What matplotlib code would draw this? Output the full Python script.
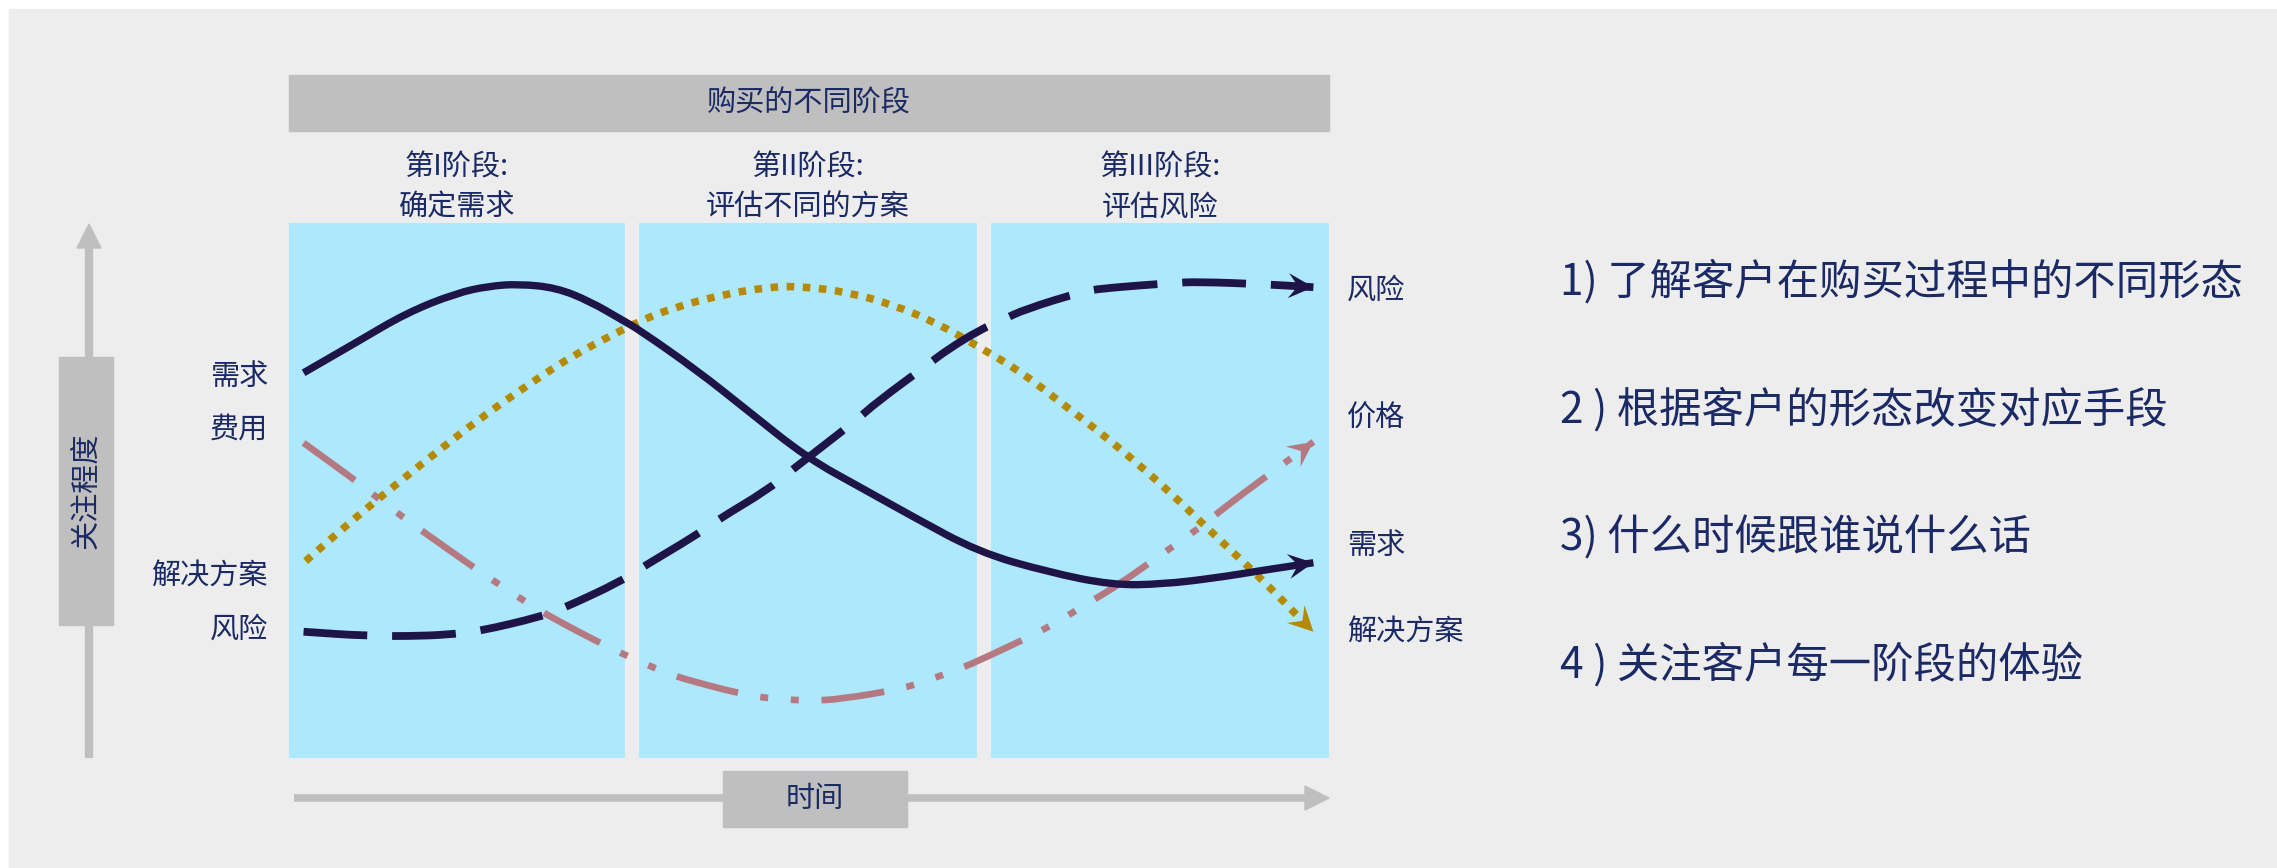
import numpy as np
import matplotlib
matplotlib.use("Agg")
import matplotlib.pyplot as plt
from matplotlib.patches import Rectangle, Polygon, PathPatch
from matplotlib.path import Path

plt.rcParams['font.family'] = ['Noto Sans CJK SC', 'DejaVu Sans']

# ---- data (time 0..100 across the three stages, attention 0..100) ----
stage_titles = ["第I阶段:\n确定需求", "第II阶段:\n评估不同的方案", "第III阶段:\n评估风险"]
stage_spans = [(0.0, 32.3), (33.65, 66.15), (67.5, 100.0)]

demand_x = [1.4, 6.4, 11.3, 16.1, 19.2, 22.1, 25.7, 28.9, 32.0, 33.7, 39.2, 44.0,
            49.8, 55.4, 60.0, 66.3, 72.9, 79.2, 84.0, 88.9, 93.7, 98.5]
demand_y = [72.0, 77.6, 83.2, 86.9, 88.2, 88.6, 87.9, 85.4, 81.9, 80.0, 72.5, 65.1,
            56.1, 50.1, 45.1, 38.5, 34.8, 32.3, 32.5, 33.6, 35.1, 36.5]

risk_x = [1.4, 7.5, 12.8, 16.0, 18.3, 24.2, 26.4, 32.0, 34.0, 39.2, 41.2, 46.0,
          48.2, 54.6, 56.5, 61.4, 63.3, 66.4, 68.6, 70.8, 76.5, 78.9, 85.0, 87.4,
          93.4, 98.5]
risk_y = [23.6, 22.8, 22.8, 23.2, 23.7, 26.4, 28.0, 33.1, 35.7, 41.7, 44.5, 50.1,
          53.6, 63.2, 66.5, 73.5, 76.3, 80.0, 81.9, 83.9, 87.3, 87.9, 88.8, 89.0,
          88.6, 88.0]

solution_x = [1.6, 4.0, 6.4, 8.7, 9.9, 13.5, 18.3, 23.4, 27.2, 31.4, 34.0, 36.9,
              41.4, 46.0, 49.1, 53.7, 58.1, 62.3, 66.2, 70.3, 73.9, 77.7, 81.2,
              84.7, 89.2, 93.6, 96.9, 98.5]
solution_y = [36.8, 40.9, 44.9, 48.6, 50.5, 56.1, 63.4, 70.3, 75.1, 79.4, 81.9, 84.1,
              86.5, 88.0, 88.2, 87.1, 84.7, 81.3, 77.0, 72.3, 66.9, 61.3, 55.7,
              49.7, 41.3, 33.3, 26.7, 23.6]

cost_x = [1.4, 6.3, 8.4, 10.9, 13.2, 18.0, 20.4, 22.9, 25.3, 30.6, 33.2, 36.0,
          38.6, 44.3, 47.1, 50.2, 53.0, 58.9, 61.5, 64.4, 66.9, 72.2, 74.7, 77.3,
          79.7, 84.5, 86.9, 89.3, 91.7, 96.4, 98.5]
cost_y = [58.9, 52.0, 48.8, 45.1, 41.9, 35.3, 32.2, 29.0, 26.2, 20.8, 18.5, 16.1,
          14.4, 11.6, 11.0, 10.7, 11.0, 12.9, 14.6, 16.6, 18.7, 23.6, 26.4, 29.5,
          32.3, 38.9, 42.1, 45.8, 49.4, 56.1, 59.1]

left_labels = ["需求", "费用", "解决方案", "风险"]
right_labels = ["风险", "价格", "需求", "解决方案"]
notes = ["1) 了解客户在购买过程中的不同形态",
         "2 ) 根据客户的形态改变对应手段",
         "3) 什么时候跟谁说什么话",
         "4 ) 关注客户每一阶段的体验"]

TXT = '#1B2A64'
NAVY = '#1F1448'
GOLD = '#B58900'
ROSE = '#B57982'
GREY = '#BFBFBF'
BLUE = '#ADE8FC'
BG = '#EDEDED'

W, H = 2277, 868
fig = plt.figure(figsize=(W / 100, H / 100), dpi=100)
fig.patch.set_facecolor('white')

# overlay in pixel units for the frame pieces
lay = fig.add_axes([0, 0, 1, 1])
lay.set_xlim(0, W)
lay.set_ylim(H, 0)
lay.axis('off')
lay.add_patch(Rectangle((9, 9), W - 9, H - 9, color=BG, zorder=0))

# top banner
lay.add_patch(Rectangle((289, 75), 1040, 56, color=GREY, zorder=1))
lay.text(809, 103, "购买的不同阶段", fontsize=21, color=TXT, ha='center', va='center')

# y axis arrow + box
lay.plot([89, 89], [245, 758], color=GREY, lw=6, solid_capstyle='butt', zorder=1)
lay.add_patch(Polygon([(89, 224), (77, 248), (101, 248)], color=GREY, zorder=1))
lay.add_patch(Rectangle((59, 357), 54, 268, color=GREY, zorder=2))
lay.text(86, 491, "关注程度", fontsize=21, color=TXT, rotation=90,
         ha='center', va='center', zorder=3)

# x axis arrow + box
lay.plot([294, 1307], [798, 798], color=GREY, lw=5.5, solid_capstyle='butt', zorder=1)
lay.add_patch(Polygon([(1329, 798), (1305, 786), (1305, 810)], color=GREY, zorder=1))
lay.add_patch(Rectangle((723, 771), 184, 56, color=GREY, zorder=2))
lay.text(815, 799, "时间", fontsize=21, color=TXT, ha='center', va='center', zorder=3)

for lab, yy in zip(left_labels, [377, 430, 577, 630]):
    lay.text(268, yy, lab, fontsize=21, color=TXT, ha='right', va='center')
for lab, yy in zip(right_labels, [291, 419, 546, 633]):
    lay.text(1347, yy, lab, fontsize=21, color=TXT, ha='left', va='center')
for lab, yy in zip(notes, [282, 410, 538, 665]):
    lay.text(1560, yy, lab, fontsize=30.5, color=TXT, ha='left', va='center')

# curve axes = the three stage panels
ax = fig.add_axes([289 / W, (H - 758) / H, 1040 / W, 535 / H])
ax.set_xlim(0, 100)
ax.set_ylim(0, 100)
ax.patch.set_alpha(0)
ax.axis('off')

for (a, b), title in zip(stage_spans, stage_titles):
    ax.axvspan(a, b, color=BLUE, lw=0, zorder=0)
    ax.text((a + b) / 2, 106.6, title, fontsize=21, color=TXT, ha='center',
            va='center', linespacing=1.42, clip_on=False)


def curve(xs, ys, color, lw, ls, z):
    # smooth quadratic path through the read points (points act as controls)
    p = np.column_stack([xs, ys])
    mids = (p[:-1] + p[1:]) / 2
    verts = [p[0], mids[0]]
    codes = [Path.MOVETO, Path.LINETO]
    for i in range(1, len(p) - 1):
        verts += [p[i], mids[i]]
        codes += [Path.CURVE3, Path.CURVE3]
    verts.append(p[-1])
    codes.append(Path.LINETO)
    pp = PathPatch(Path(verts, codes), fill=False, edgecolor=color, lw=lw,
                   linestyle=ls, capstyle='butt', joinstyle='round',
                   zorder=z, clip_on=False)
    ax.add_patch(pp)


def head(xs, ys, color, L=25, hw=12.5):
    p = ax.transData.transform(np.column_stack([xs[-2:], ys[-2:]]))
    d = p[1] - p[0]
    d = d / np.hypot(*d)
    n = np.array([-d[1], d[0]])
    tip = p[1]
    back = tip - d * L
    pts = np.array([tip, back + n * hw, tip - d * L * 0.62, back - n * hw])
    ax.add_patch(Polygon(ax.transData.inverted().transform(pts), color=color,
                         lw=0, zorder=5, clip_on=False))


curve(cost_x, cost_y, ROSE, 4.8, (0, (9.5, 3.4, 1.2, 3.4, 1.2, 3.4)), 2)
head(cost_x, cost_y, ROSE)

curve(solution_x, solution_y, GOLD, 5.4, (0, (1, 1.15)), 3)
head(solution_x, solution_y, GOLD)

curve(risk_x, risk_y, NAVY, 5.6, (0, (8.2, 3.2)), 4)
head(risk_x, risk_y, NAVY)

curve(demand_x, demand_y, NAVY, 5.3, '-', 4)
head(demand_x, demand_y, NAVY)

fig.savefig("out.png", dpi=100)
